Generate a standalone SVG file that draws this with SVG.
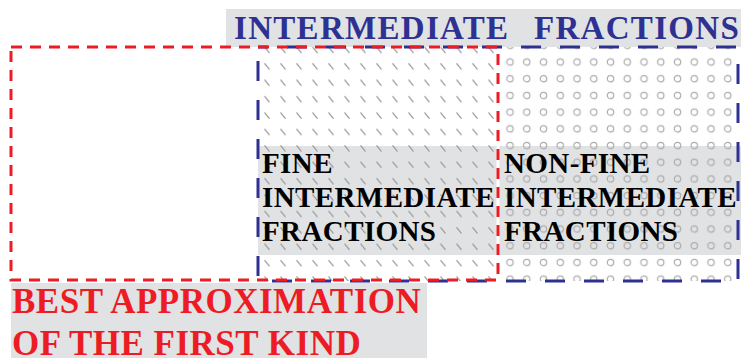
<svg xmlns="http://www.w3.org/2000/svg" width="741" height="358" viewBox="0 0 741 358">
<style>
.bg{fill:#e1e2e4}
.t{font-family:"Liberation Serif","Times New Roman",serif;font-weight:bold}
.blk{fill:#000;font-size:29px;letter-spacing:0.4px}
.blue{fill:#2e3192;font-size:33px;letter-spacing:1.3px}
.red{fill:#ed1c24;font-size:35px;letter-spacing:0.5px}
</style>
<defs>
<pattern id="hatch" patternUnits="userSpaceOnUse" x="259" y="41.8" width="16" height="16.4">
<line x1="5.5" y1="5.2" x2="10.5" y2="11.2" stroke="#9a9a9a" stroke-width="1.3"/>
</pattern>
<pattern id="dots" patternUnits="userSpaceOnUse" x="501.6" y="53.6" width="16.75" height="16.7">
<circle cx="8.4" cy="8.4" r="3.2" fill="none" stroke="#ababab" stroke-width="1.2"/>
</pattern>
</defs>
<g id="intermediate-fractions">
<rect class="bg" x="226" y="9" width="515" height="38"/>
<text class="t blue" x="234" y="39">INTERMEDIATE<tspan x="534">FRACTIONS</tspan></text>
</g>
<g id="fine">
<rect class="bg" x="258" y="146" width="238.5" height="109"/>
<rect x="258" y="47" width="240" height="234" fill="url(#hatch)"/>
</g>
<g id="non-fine">
<rect class="bg" x="499.5" y="146" width="241.5" height="109"/>
<rect x="498" y="47" width="241" height="234" fill="url(#dots)"/>
</g>
<rect x="258" y="47" width="480" height="234" fill="none" stroke="#2e3192" stroke-width="3" stroke-dasharray="20 19" stroke-dashoffset="10"/>
<g id="best-approximation">
<rect class="bg" x="11" y="283" width="416" height="75"/>
<rect x="11" y="47" width="487" height="233" fill="none" stroke="#ed1c24" stroke-width="3" stroke-dasharray="11 8"/>
<text class="t red" x="12" y="313">BEST APPROXIMATION</text>
<text class="t red" x="12" y="354.5">OF THE FIRST KIND</text>
</g>
<text class="t blk" x="262" y="173">FINE</text>
<text class="t blk" x="262" y="207">INTERMEDIATE</text>
<text class="t blk" x="262" y="241">FRACTIONS</text>
<text class="t blk" x="504" y="173">NON-FINE</text>
<text class="t blk" x="504" y="207">INTERMEDIATE</text>
<text class="t blk" x="504" y="241">FRACTIONS</text>
<g id="connectors"/>
</svg>
